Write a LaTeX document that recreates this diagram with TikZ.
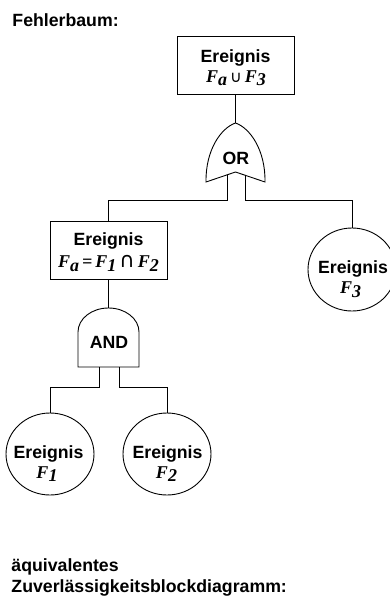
\documentclass[tikz,border=0pt]{standalone}
\usepackage{fontspec}
\setmainfont{Liberation Sans}
\newfontfamily\serifbi{Liberation Serif}
\newfontfamily\symf{DejaVu Sans}
\usetikzlibrary{shapes.geometric}
\newcommand{\lbl}{\fontsize{17.7}{21}\selectfont\bfseries}
\newcommand{\mth}{\fontsize{18}{21}\selectfont\serifbi\bfseries\itshape}
\newcommand{\sbs}[1]{\raisebox{-3.5pt}{#1}}
\newcommand{\cupsym}{{\fontsize{16}{16}\selectfont\symf\mdseries\upshape ∪}}
\newcommand{\capsym}{{\fontsize{21}{21}\selectfont\symf\mdseries\upshape ∩}}
\begin{document}
\begin{tikzpicture}[x=1pt,y=-1pt,line width=0.9pt,
  eventbox/.style={draw,rectangle,minimum width=117pt,minimum height=58pt,inner sep=0pt},
  eventcirc/.style={draw,ellipse,minimum width=88pt,minimum height=82pt,inner sep=0pt},
  txt/.style={anchor=base,inner sep=0pt,font=\lbl},
  mtxt/.style={anchor=base,inner sep=0pt,font=\mth},
  head/.style={anchor=base west,inner sep=0pt,font=\lbl},
  gate/.style={draw,line join=miter}]
\useasboundingbox (0,0) rectangle (390,599);

% title
\node[head] (title) at (12,26.5) {Fehlerbaum:};

% top event
\node[eventbox] (top) at (235.5,65) {};
\node[txt] (topa) at (235.5,62.3) {Ereignis};
\node[mtxt] (topb) at (236,82.3) {F\sbs{a}\,\cupsym\,F\sbs{3}};

% OR gate
\draw[gate] (206,182) .. controls (205.5,150) and (221,128) .. (235.5,123)
  .. controls (250,128) and (265.5,150) .. (265,182) -- (235.5,172) -- cycle;
\coordinate (orTop) at (235.5,123);
\coordinate (orInL) at (227,174.9);
\coordinate (orInR) at (245,175.3);
\coordinate (orBus) at (0,200);
\node[font=\lbl,inner sep=0pt] (ortxt) at (236,158) {OR};

% intermediate event
\node[eventbox] (mid) at (108.5,250) {};
\node[txt] (mida) at (108.5,245.7) {Ereignis};
\node[mtxt] (midb) at (108.5,267.5) {F\sbs{a}\,=\,F\sbs{1}\,\capsym\,F\sbs{2}};

% F3 event
\node[eventcirc,minimum height=83pt] (f3) at (352,269.5) {};
\node[txt] (f3a) at (353,273) {Ereignis};
\node[mtxt] (f3b) at (350.5,293.5) {F\sbs{3}};

% AND gate
\draw[gate] (78,367) -- (78,332) arc[start angle=180,end angle=0,x radius=30.5pt,y radius=24pt] -- (139,367) -- cycle;
\coordinate (andTop) at (108.5,308);
\coordinate (andInL) at (99,367);
\coordinate (andInR) at (119,367);
\coordinate (andBus) at (0,387);
\node[font=\lbl,inner sep=0pt] (andtxt) at (109,342) {AND};

% basic events
\node[eventcirc] (f1) at (50,454) {};
\node[txt] (f1a) at (48.5,458) {Ereignis};
\node[mtxt] (f1b) at (47,478) {F\sbs{1}};
\node[eventcirc] (f2) at (167,454) {};
\node[txt] (f2a) at (167.5,458) {Ereignis};
\node[mtxt] (f2b) at (166.5,478) {F\sbs{2}};

% connectors
\draw (top.south) -- (orTop);
\draw (orInL) -- (orInL |- orBus) -| (mid.north);
\draw (orInR) -- (orInR |- orBus) -| (f3.north);
\draw (mid.south) -- (andTop);
\draw (andInL) -- (andInL |- andBus) -| (f1.north);
\draw (andInR) -- (andInR |- andBus) -| (f2.north);

% bottom caption
\node[head] (cap1) at (11,571) {äquivalentes};
\node[head] (cap2) at (11,592) {Zuverlässigkeitsblockdiagramm:};
\end{tikzpicture}
\end{document}
